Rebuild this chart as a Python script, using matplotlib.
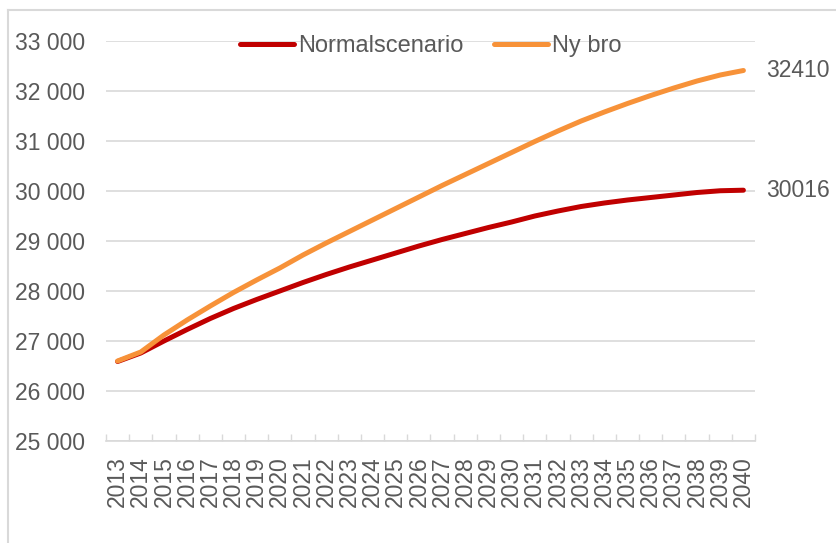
import matplotlib
matplotlib.use("Agg")
import matplotlib.pyplot as plt
from matplotlib.lines import Line2D
from matplotlib.ticker import FuncFormatter

# Data
years = list(range(2013, 2041))
normal = [26590, 26760, 27000, 27230, 27450, 27650, 27830, 28000, 28170, 28330,
          28480, 28620, 28760, 28900, 29030, 29150, 29270, 29380, 29500, 29600,
          29690, 29760, 29820, 29870, 29920, 29970, 30005, 30016]
ny_bro = [26600, 26780, 27120, 27420, 27700, 27970, 28220, 28460, 28720, 28960,
          29190, 29420, 29650, 29880, 30110, 30330, 30550, 30770, 30990, 31200,
          31400, 31580, 31750, 31910, 32060, 32200, 32320, 32410]
series_names = ["Normalscenario", "Ny bro"]
colors = ["#c00000", "#f79239"]

TEXT = "#595959"
GRID = "#d9d9d9"

plt.rcParams["font.family"] = ["Liberation Sans", "DejaVu Sans"]

fig = plt.figure(figsize=(8.37, 5.43), dpi=100)
ax = fig.add_axes([106 / 837, 1 - 441 / 543, 649 / 837, 400 / 543])

x = list(range(len(years)))
for vals, name, c in zip([normal, ny_bro], series_names, colors):
    ax.plot(x, vals, color=c, lw=3.6, label=name, solid_capstyle="round")

# end labels
for vals in [ny_bro, normal]:
    ax.annotate(str(vals[-1]), xy=(x[-1], vals[-1]), xytext=(16, 0),
                textcoords="offset points", ha="left", va="center",
                fontsize=16.5, color=TEXT, annotation_clip=False)

ax.set_xlim(-0.5, len(years) - 0.5)
ax.set_ylim(25000, 33000)
ax.set_yticks(range(25000, 33001, 1000))
ax.yaxis.set_major_formatter(FuncFormatter(lambda v, p: f"{int(v):,}".replace(",", " ")))
ax.set_xticks(x)
ax.set_xticklabels([str(y) for y in years], rotation=90)
ax.set_xticks([i - 0.5 for i in range(len(years) + 1)], minor=True)

ax.tick_params(axis="x", which="major", length=0, pad=11, labelsize=16.5, labelcolor=TEXT)
ax.tick_params(axis="x", which="minor", length=5, width=1, direction="in", color=GRID)
ax.tick_params(axis="y", length=0, pad=15, labelsize=16.5, labelcolor=TEXT)

ax.grid(axis="y", color=GRID, lw=1.2)
ax.set_axisbelow(True)
for s in ["top", "right", "left"]:
    ax.spines[s].set_visible(False)
ax.spines["bottom"].set_color(GRID)
ax.spines["bottom"].set_linewidth(1.2)

leg = ax.legend(loc="center", bbox_to_anchor=(0.5, 0.987), ncol=2, frameon=False,
                fontsize=17, handlelength=2.3, handletextpad=0.15,
                columnspacing=1.3, borderpad=0)
for t in leg.get_texts():
    t.set_color(TEXT)

# chart area border (left and top visible)
fig.add_artist(Line2D([8 / 837, 8 / 837], [0, 1 - 10 / 543], color=GRID, lw=1.5))
fig.add_artist(Line2D([8 / 837, 1], [1 - 10 / 543, 1 - 10 / 543], color=GRID, lw=1.5))

fig.savefig("out.png", dpi=100)
